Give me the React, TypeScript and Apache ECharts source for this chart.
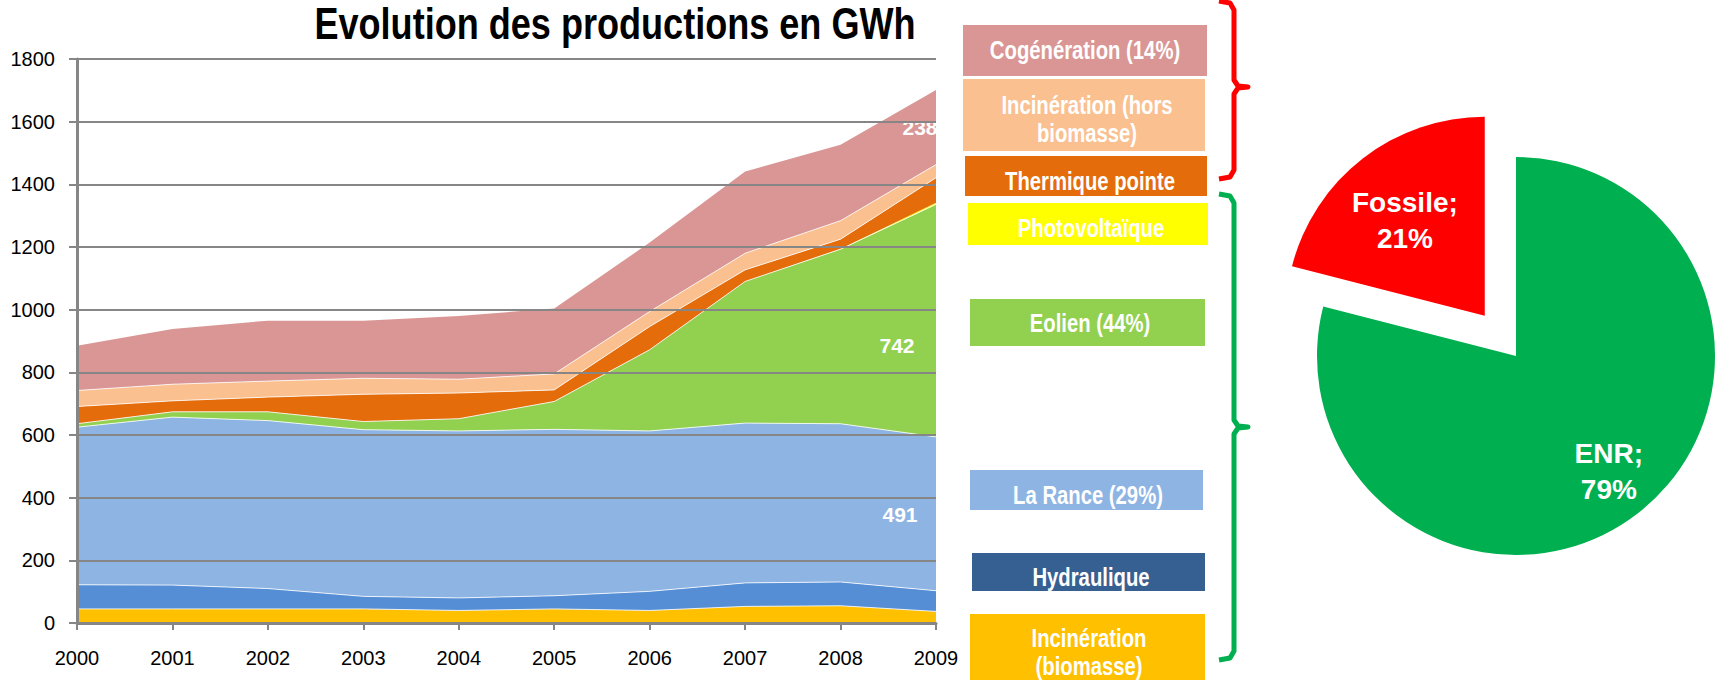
import React, { useEffect, useRef } from "react";
import * as echarts from "echarts";

// ---------- data ----------
const years = ["2000", "2001", "2002", "2003", "2004", "2005", "2006", "2007", "2008", "2009"];
const yTicks = [0, 200, 400, 600, 800, 1000, 1200, 1400, 1600, 1800];

const biomasse = [45, 45, 45, 45, 40, 45, 40, 53, 55, 37];
const hydraulique = [77, 76, 65, 40, 40, 42, 61, 75, 76, 66];
const laRance = [503, 536, 536, 532, 533, 531, 512, 510, 505, 491];
const eolien = [11, 17, 28, 26, 39, 89, 259, 452, 557, 742];
const photovoltaique = [0, 0, 0, 0, 0, 0, 0, 0, 1, 5];
const thermiquePointe = [55, 35, 47, 87, 82, 37, 74, 37, 31, 80];
const incinerationHors = [51, 53, 51, 51, 44, 51, 48, 53, 59, 42];
const cogeneration = [143, 176, 193, 184, 202, 209, 220, 261, 242, 238];

const seriesNames = [
  "Incinération (biomasse)",
  "Hydraulique",
  "La Rance",
  "Eolien",
  "Photovoltaïque",
  "Thermique pointe",
  "Incinération (hors biomasse)",
  "Cogénération",
];
const seriesValues = [biomasse, hydraulique, laRance, eolien, photovoltaique, thermiquePointe, incinerationHors, cogeneration];
const areaColors = ["#FFC000", "#558ED5", "#8EB4E3", "#92D050", "#FFFF00", "#E46C0A", "#FAC090", "#D99694"];

// legend boxes (top to bottom)
const legendTexts = [
  "Cogénération (14%)",
  "Incinération (hors\nbiomasse)",
  "Thermique pointe",
  "Photovoltaïque",
  "Eolien (44%)",
  "La Rance (29%)",
  "Hydraulique",
  "Incinération\n(biomasse)",
];
const legendColors = ["#D99694", "#FAC090", "#E46C0A", "#FFFF00", "#92D050", "#8EB4E3", "#376092", "#FFC000"];

// pie
const pieNames = ["ENR", "Fossile"];
const pieValues = [79, 21];
const pieColors = ["#00B050", "#FF0000"];

const TITLE = "Evolution des productions en GWh";

// ---------- layout (not data) ----------
const FONT = "'Liberation Sans', Arial, sans-serif";
const legendBoxes = [
  [963, 25, 244, 51],
  [963, 79, 242, 72],
  [965, 156, 242, 40],
  [968, 203, 240, 42],
  [970, 299, 235, 47],
  [970, 470, 233, 40],
  [972, 553, 233, 38],
  [970, 614, 235, 70],
];
const legendTextPos = [
  [1085, 50],
  [1087, 119],
  [1090, 181],
  [1091, 228],
  [1090, 323],
  [1088, 495],
  [1091, 577],
  [1089, 652],
];
// label offsets for end-of-series values (seriesIndex -> [dx, dy])
const endLabelOffsets: Record<number, [number, number]> = {
  2: [-36, 78],
  3: [-39, 141],
  7: [-16, 37],
};

export default function App() {
  const ref = useRef<HTMLDivElement>(null);

  useEffect(() => {
    if (!ref.current) return;
    const chart = echarts.init(ref.current, undefined, { renderer: "svg" });
    const last = years.length - 1;

    const series: any[] = seriesValues.map((vals, si) => ({
      name: seriesNames[si],
      type: "line",
      stack: "total",
      symbol: "circle",
      symbolSize: 0,
      showSymbol: true,
      silent: true,
      lineStyle: {
        color: "#FFFFFF",
        width: 1,
        opacity: si === 7 || si === 4 ? 0 : 0.8,
      },
      itemStyle: { color: areaColors[si] },
      areaStyle: { color: areaColors[si], opacity: 1 },
      emphasis: { disabled: true },
      data: vals.map((v, i) =>
        i === last && endLabelOffsets[si]
          ? {
              value: v,
              label: {
                show: true,
                position: "inside",
                offset: endLabelOffsets[si],
                color: "#FFFFFF",
                fontFamily: FONT,
                fontWeight: "bold",
                fontSize: 21,
                formatter: "{c}",
              },
            }
          : v
      ),
    }));

    series.push({
      type: "pie",
      center: [1516, 356],
      radius: 199,
      startAngle: 90,
      clockwise: true,
      selectedMode: "single",
      selectedOffset: 51,
      silent: true,
      emphasis: { disabled: true },
      label: {
        show: true,
        position: "inside",
        color: "#FFFFFF",
        fontFamily: FONT,
        fontWeight: "bold",
        fontSize: 28,
        lineHeight: 36,
        formatter: (p: any) => `${p.name};\n${p.value}%`,
      },
      labelLine: { show: false },
      labelLayout: (p: any) => (p.dataIndex === 0 ? { dx: 30, dy: 35 } : { dx: -17, dy: -14 }),
      data: pieNames.map((n, i) => ({
        name: n,
        value: pieValues[i],
        selected: i === 1,
        itemStyle: { color: pieColors[i] },
      })),
    });

    const graphics: any[] = [];
    // chart title (condensed bold)
    graphics.push({
      type: "text",
      silent: true,
      x: 615,
      y: 24,
      scaleX: 0.82,
      style: {
        text: TITLE,
        fill: "#000000",
        fontFamily: FONT,
        fontWeight: "bold",
        fontSize: 44,
        align: "center",
        verticalAlign: "middle",
        textAlign: "center",
        textVerticalAlign: "middle",
      },
    });
    legendBoxes.forEach((b, i) => {
      graphics.push({
        type: "rect",
        silent: true,
        shape: { x: b[0], y: b[1], width: b[2], height: b[3] },
        style: { fill: legendColors[i] },
      });
    });
    legendTexts.forEach((t, i) => {
      graphics.push({
        type: "text",
        silent: true,
        x: legendTextPos[i][0],
        y: legendTextPos[i][1],
        scaleX: 0.78,
        style: {
          text: t,
          fill: "#FFFFFF",
          fontFamily: FONT,
          fontWeight: "bold",
          fontSize: 26,
          lineHeight: 28,
          align: "center",
          verticalAlign: "middle",
          textAlign: "center",
          textVerticalAlign: "middle",
        },
      });
    });
    // braces
    graphics.push({
      type: "polyline",
      silent: true,
      shape: {
        points: [
          [1219, 1], [1230, 3], [1234, 10], [1234, 80], [1238, 86], [1248, 87],
          [1238, 88], [1234, 94], [1234, 170], [1230, 177], [1219, 179],
        ],
      },
      style: { stroke: "#FF0000", lineWidth: 5, fill: null, lineJoin: "round" },
    });
    graphics.push({
      type: "polyline",
      silent: true,
      shape: {
        points: [
          [1219, 194], [1230, 196], [1234, 203], [1234, 420], [1238, 426], [1248, 427],
          [1238, 428], [1234, 434], [1234, 651], [1230, 658], [1219, 660],
        ],
      },
      style: { stroke: "#00B050", lineWidth: 5, fill: null, lineJoin: "round" },
    });

    chart.setOption({
      animation: false,
      backgroundColor: "#FFFFFF",
      grid: { left: 77, right: 779, top: 59, bottom: 57, containLabel: false },
      xAxis: {
        type: "category",
        data: years,
        boundaryGap: false,
        axisLine: { lineStyle: { color: "#868686", width: 3 } },
        axisTick: { show: true, length: 7, alignWithLabel: true, lineStyle: { color: "#868686", width: 2 } },
        axisLabel: { color: "#000000", fontFamily: FONT, fontSize: 20, margin: 25, interval: 0 },
        splitLine: { show: false },
        z: 10,
      },
      yAxis: {
        type: "value",
        min: yTicks[0],
        max: yTicks[yTicks.length - 1],
        interval: yTicks[1] - yTicks[0],
        axisLine: { show: true, lineStyle: { color: "#868686", width: 3 } },
        axisTick: { show: true, length: 8, lineStyle: { color: "#868686", width: 2 } },
        axisLabel: {
          color: "#000000",
          fontFamily: FONT,
          fontSize: 20,
          margin: 22,
          formatter: (v: number) => String(v),
        },
        splitLine: { show: true, lineStyle: { color: "#868686", width: 2 } },
        z: 10,
      },
      series,
      graphic: graphics,
    });

    return () => chart.dispose();
  }, []);

  return (
    <div
      ref={ref}
      style={{ position: "absolute", left: 0, top: 0, width: 1715, height: 680 }}
    />
  );
}
